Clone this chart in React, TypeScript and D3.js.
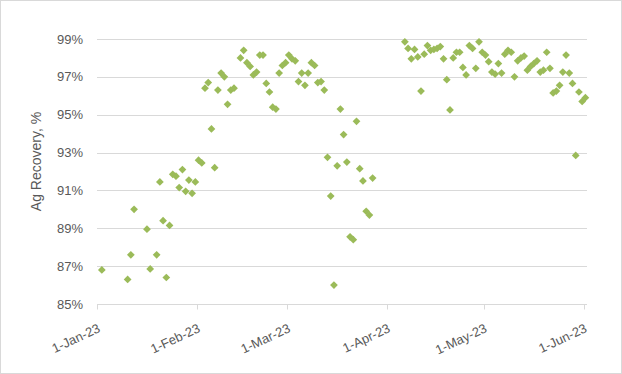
import { useEffect, useRef } from 'react';
import * as d3 from 'd3';

// daily Ag recovery readings (date, %)
const sampleDates = [
  '2023-01-02', '2023-01-10', '2023-01-11', '2023-01-12', '2023-01-16', '2023-01-17', '2023-01-19', '2023-01-20',
  '2023-01-21', '2023-01-22', '2023-01-23', '2023-01-24', '2023-01-25', '2023-01-26', '2023-01-27', '2023-01-28',
  '2023-01-29', '2023-01-30', '2023-01-31', '2023-02-01', '2023-02-02', '2023-02-03', '2023-02-04', '2023-02-05',
  '2023-02-06', '2023-02-07', '2023-02-08', '2023-02-09', '2023-02-10', '2023-02-11', '2023-02-12', '2023-02-14',
  '2023-02-15', '2023-02-16', '2023-02-17', '2023-02-18', '2023-02-19', '2023-02-20', '2023-02-21', '2023-02-22',
  '2023-02-23', '2023-02-24', '2023-02-25', '2023-02-26', '2023-02-27', '2023-02-28', '2023-03-01', '2023-03-02',
  '2023-03-03', '2023-03-04', '2023-03-05', '2023-03-06', '2023-03-07', '2023-03-08', '2023-03-09', '2023-03-10',
  '2023-03-11', '2023-03-12', '2023-03-13', '2023-03-14', '2023-03-15', '2023-03-16', '2023-03-17', '2023-03-18',
  '2023-03-19', '2023-03-20', '2023-03-21', '2023-03-22', '2023-03-23', '2023-03-24', '2023-03-25', '2023-03-26',
  '2023-03-27', '2023-04-06', '2023-04-07', '2023-04-08', '2023-04-09', '2023-04-10', '2023-04-11', '2023-04-12',
  '2023-04-13', '2023-04-14', '2023-04-15', '2023-04-16', '2023-04-17', '2023-04-18', '2023-04-19', '2023-04-20',
  '2023-04-21', '2023-04-22', '2023-04-23', '2023-04-24', '2023-04-25', '2023-04-26', '2023-04-27', '2023-04-28',
  '2023-04-29', '2023-04-30', '2023-05-01', '2023-05-02', '2023-05-03', '2023-05-04', '2023-05-05', '2023-05-06',
  '2023-05-07', '2023-05-08', '2023-05-09', '2023-05-10', '2023-05-11', '2023-05-12', '2023-05-13', '2023-05-14',
  '2023-05-15', '2023-05-16', '2023-05-17', '2023-05-18', '2023-05-19', '2023-05-20', '2023-05-21', '2023-05-22',
  '2023-05-23', '2023-05-24', '2023-05-25', '2023-05-26', '2023-05-27', '2023-05-28', '2023-05-29', '2023-05-30',
  '2023-05-31', '2023-06-01',
];

const agRecovery = [
  86.8, 86.3, 87.6, 90.0, 88.95, 86.85, 87.6, 91.45,
  89.4, 86.4, 89.15, 91.85, 91.75, 91.15, 92.1, 90.95,
  91.55, 90.85, 91.45, 92.6, 92.45, 96.4, 96.7, 94.25,
  92.2, 96.3, 97.2, 97.0, 95.55, 96.3, 96.4, 98.0,
  98.4, 97.75, 97.55, 97.1, 97.25, 98.15, 98.15, 96.65,
  96.2, 95.4, 95.3, 97.2, 97.6, 97.75, 98.15, 97.95,
  97.85, 96.75, 97.2, 96.55, 97.2, 97.75, 97.6, 96.7,
  96.75, 96.3, 92.75, 90.7, 86.0, 92.3, 95.3, 93.95,
  92.5, 88.55, 88.4, 94.65, 92.15, 91.5, 89.9, 89.7,
  91.65, 98.85, 98.5, 97.95, 98.45, 98.05, 96.25, 98.2,
  98.65, 98.4, 98.45, 98.5, 98.6, 97.95, 96.85, 95.25,
  98.0, 98.3, 98.3, 97.5, 97.1, 98.65, 98.5, 97.45,
  98.85, 98.3, 98.15, 97.8, 97.25, 97.15, 97.7, 97.2,
  98.2, 98.4, 98.3, 97.0, 97.85, 98.0, 98.1, 97.35,
  97.55, 97.7, 97.85, 97.25, 97.35, 98.3, 97.45, 96.15,
  96.25, 96.55, 97.25, 98.15, 97.2, 96.65, 92.85, 96.2,
  95.7, 95.9,
];

const xTickDates = ['2023-01-01', '2023-02-01', '2023-03-01', '2023-04-01', '2023-05-01', '2023-06-01'];
const yTicks = [85, 87, 89, 91, 93, 95, 97, 99];

export default function App() {
  const containerRef = useRef<HTMLDivElement>(null);

  useEffect(() => {
    if (!containerRef.current) return;
    containerRef.current.innerHTML = '';

    const width = 622;
    const height = 374;
    const parse = d3.timeParse('%Y-%m-%d');
    const fmt = d3.timeFormat('%-d-%b-%y');

    const svg = d3.select(containerRef.current)
      .append('svg')
      .attr('width', width)
      .attr('height', height)
      .style('display', 'block')
      .style('font-family', '"Liberation Sans", Arial, sans-serif');

    svg.append('rect')
      .attr('x', 0.5).attr('y', 0.5)
      .attr('width', width - 1).attr('height', height - 1)
      .attr('fill', '#fff')
      .attr('stroke', '#d9d9d9');

    // domain runs a day past 1-Jun so the gridlines overhang the last tick slightly
    const x = d3.scaleTime()
      .domain([parse('2023-01-01')!, parse('2023-06-02')!])
      .range([97, 587]);

    const y = d3.scaleLinear()
      .domain([85, 99])
      .range([304, 39]);

    // gridlines
    svg.append('g')
      .selectAll('line')
      .data(yTicks.slice(1))
      .enter()
      .append('line')
      .attr('x1', x.range()[0])
      .attr('x2', x.range()[1])
      .attr('y1', d => Math.round(y(d)) + 0.5)
      .attr('y2', d => Math.round(y(d)) + 0.5)
      .attr('stroke', '#d9d9d9')
      .attr('stroke-width', 1);

    // x axis line + ticks
    const y0 = Math.round(y(85)) + 0.5;
    svg.append('line')
      .attr('x1', x.range()[0]).attr('x2', x.range()[1])
      .attr('y1', y0).attr('y2', y0)
      .attr('stroke', '#d9d9d9');

    const xt = xTickDates.map(s => parse(s)!);
    svg.append('g')
      .selectAll('line')
      .data(xt)
      .enter()
      .append('line')
      .attr('x1', d => Math.round(x(d)) + 0.5)
      .attr('x2', d => Math.round(x(d)) + 0.5)
      .attr('y1', y0)
      .attr('y2', y0 + 5)
      .attr('stroke', '#d9d9d9');

    svg.append('g')
      .selectAll('text')
      .data(xt)
      .enter()
      .append('text')
      .attr('transform', d => `translate(${x(d) + 4},${y0 + 27}) rotate(-25)`)
      .attr('text-anchor', 'end')
      .attr('font-size', 13)
      .attr('fill', '#595959')
      .text(d => fmt(d));

    // y tick labels
    svg.append('g')
      .selectAll('text')
      .data(yTicks)
      .enter()
      .append('text')
      .attr('x', 83)
      .attr('y', d => y(d))
      .attr('dy', '0.35em')
      .attr('text-anchor', 'end')
      .attr('font-size', 13)
      .attr('fill', '#595959')
      .text(d => `${d}%`);

    svg.append('text')
      .attr('transform', `translate(41,${(39 + 304) / 2 - 10}) rotate(-90)`)
      .attr('text-anchor', 'middle')
      .attr('font-size', 14)
      .attr('fill', '#595959')
      .text('Ag Recovery, %');

    // points (readings sit mid-day)
    const data = sampleDates.map((s, i) => ({ date: d3.timeHour.offset(parse(s)!, 12), value: agRecovery[i] }));
    const diamond = d3.symbol().type(d3.symbolSquare).size(30);

    svg.append('g')
      .selectAll('path')
      .data(data)
      .enter()
      .append('path')
      .attr('transform', d => `translate(${x(d.date)},${y(d.value)}) rotate(45)`)
      .attr('d', diamond()!)
      .attr('fill', '#9bbb59');
  }, []);

  return <div ref={containerRef} style={{ position: 'absolute', left: 0, top: 0 }} />;
}
